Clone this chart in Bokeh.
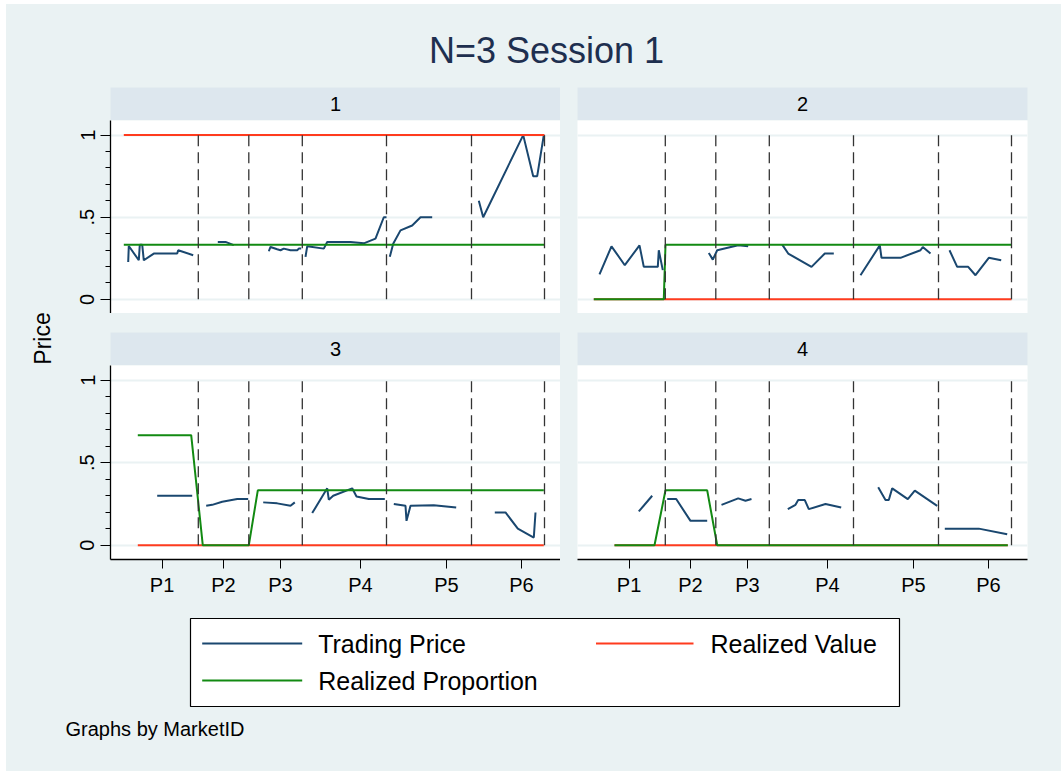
from bokeh.plotting import figure
from bokeh.models import Range1d, FixedTicker, Grid, LinearAxis, Spacer
from bokeh.layouts import column, row
from bokeh.embed import file_html
from bokeh.resources import INLINE
from bokeh.core.properties import value

# ---------------- data (time axis in seconds-like units) ----------------
period_ends = [74.5, 125.0, 178.5, 262.7, 347.7, 420.7]
period_ticks = [38.3, 99.7, 156.7, 236.7, 322.7, 397.7]
period_labels = ["P1", "P2", "P3", "P4", "P5", "P6"]
y_ticks = [0, 0.5, 1]
y_tick_labels = ["0", ".5", "1"]
market_ids = ["1", "2", "3", "4"]

# Market 1
m1_price_t = [[4.4, 5.0, 15.0, 16.0, 18.4, 20.0, 30.0, 53.4, 54.4, 69.4],
              [94.0, 101.7, 110.0],
              [145.0, 146.7, 153.4, 156.7, 160.0, 166.7, 173.4, 175.0, 177.4],
              [181.7, 183.4, 200.0, 203.4, 226.7, 240.0, 251.7, 260.0, 262.7],
              [266.0, 269.4, 276.7, 288.4, 296.7, 308.4],
              [355.0, 359.4, 399.4, 409.4, 413.4, 420.0]]
m1_price = [[0.228, 0.325, 0.238, 0.333, 0.333, 0.238, 0.279, 0.279, 0.299, 0.269],
            [0.35, 0.35, 0.33],
            [0.293, 0.319, 0.305, 0.299, 0.309, 0.299, 0.299, 0.309, 0.309],
            [0.259, 0.323, 0.309, 0.349, 0.349, 0.341, 0.37, 0.5, 0.5],
            [0.259, 0.339, 0.42, 0.45, 0.5, 0.5],
            [0.6, 0.5, 1.0, 0.75, 0.75, 1.0]]
m1_value_t = [0.0, 420.7]
m1_value = [1, 1]
m1_prop_t = [0.0, 420.7]
m1_prop = [0.333, 0.333]

# Market 2
m2_price_t = [[8.7, 20.7, 34.0, 48.7, 53.0, 67.0, 68.0, 72.0],
              [118.0, 122.0, 126.4, 147.4, 157.4],
              [191.4, 197.4, 220.7, 234.0, 243.0],
              [269.7, 289.0, 290.7, 309.7, 329.7, 332.0, 339.7],
              [358.7, 366.4, 377.4, 384.7, 398.0, 410.4]]
m2_price = [[0.152, 0.323, 0.208, 0.329, 0.198, 0.198, 0.299, 0.178],
            [0.283, 0.242, 0.299, 0.329, 0.323],
            [0.333, 0.279, 0.198, 0.279, 0.279],
            [0.147, 0.329, 0.253, 0.253, 0.299, 0.319, 0.279],
            [0.299, 0.198, 0.198, 0.147, 0.253, 0.238]]
m2_value_t = [3.0, 420.7]
m2_value = [0, 0]
m2_prop_t = [3.0, 73.0, 74.7, 420.7]
m2_prop = [0, 0, 0.333, 0.333]

# Market 3
m3_price_t = [[33.4, 68.4],
              [82.4, 88.4, 98.4, 113.4, 124.4],
              [139.4, 153.4, 166.7, 171.0],
              [188.4, 203.4, 205.0, 209.4, 228.4, 232.7, 245.0, 261.0],
              [270.0, 281.7, 282.7, 286.7, 310.0, 332.4],
              [371.0, 381.7, 394.0, 410.0, 411.7]]
m3_price = [[0.3, 0.3],
            [0.239, 0.245, 0.264, 0.28, 0.28],
            [0.26, 0.254, 0.239, 0.26],
            [0.195, 0.345, 0.276, 0.3, 0.345, 0.296, 0.28, 0.28],
            [0.25, 0.239, 0.148, 0.239, 0.243, 0.229],
            [0.199, 0.199, 0.101, 0.047, 0.199]]
m3_value_t = [14.0, 420.0]
m3_value = [0, 0]
m3_prop_t = [14.0, 67.4, 79.0, 125.0, 134.0, 420.0]
m3_prop = [0.667, 0.667, 0, 0, 0.333, 0.333]

# Market 4
m4_price_t = [[48.0, 61.4],
              [76.4, 85.4, 99.7, 116.4],
              [130.7, 147.4, 154.7, 160.7],
              [197.0, 204.7, 207.4, 214.0, 218.0, 234.7, 250.4],
              [287.4, 294.7, 298.0, 301.4, 317.0, 324.0, 346.4],
              [354.0, 388.0, 416.4]]
m4_price = [[0.205, 0.3],
            [0.28, 0.28, 0.148, 0.148],
            [0.245, 0.284, 0.27, 0.28],
            [0.219, 0.245, 0.274, 0.274, 0.219, 0.25, 0.229],
            [0.351, 0.274, 0.274, 0.345, 0.28, 0.331, 0.239],
            [0.101, 0.101, 0.067]]
m4_value_t = [23.7, 417.0]
m4_value = [0, 0]
m4_prop_t = [23.7, 63.7, 74.7, 116.4, 126.4, 417.0]
m4_prop = [0, 0, 0.333, 0.333, 0, 0]

legend_labels = ["Trading Price", "Realized Value", "Realized Proportion"]
title_text = "N=3 Session 1"
note_text = "Graphs by MarketID"
y_title = "Price"

# ---------------- style ----------------
FONT = "Liberation Sans"
BG = "#EAF2F3"
STRIP = "#DDE7EE"
NAVY = "#1A476F"
RED = "#FF3B1E"
GREEN = "#128A12"
TITLE_COLOR = "#1E2F4F"
X_RANGE = (-13.3, 436.7)
Y_RANGE = (-0.086, 1.089)


def base_fig(w, h, xr, yr, **kw):
    return figure(width=w, height=h, x_range=Range1d(*xr), y_range=Range1d(*yr),
                  x_axis_type=None, y_axis_type=None, title=None,
                  toolbar_location=None, output_backend="svg",
                  outline_line_color=None, border_fill_color=BG,
                  min_border_left=kw.get("ml", 0), min_border_right=kw.get("mr", 0),
                  min_border_top=kw.get("mt", 0), min_border_bottom=kw.get("mb", 0),
                  background_fill_color=kw.get("bg", BG))


def strip(label, w, ml, mr):
    s = base_fig(w, 33, (0, 1), (0, 1), ml=ml, mr=mr, bg=STRIP)
    s.text(x=[0.5], y=[0.5], text=[label], text_align="center", text_baseline="middle",
           text_font=value(FONT), text_font_size="20px", text_color="black")
    return s


def style_axis(ax):
    ax.axis_line_color = "black"
    ax.axis_line_width = 1.3
    ax.major_tick_line_color = "black"
    ax.minor_tick_line_color = "black"
    ax.major_tick_in = 0
    ax.minor_tick_in = 0
    ax.major_label_text_font = FONT
    ax.major_label_text_font_size = "20px"
    ax.major_label_text_color = "black"


def panel(pt, pp, vt, vv, qt, qq, w, h, ml, mr, mb, left, bottom):
    p = base_fig(w, h, X_RANGE, Y_RANGE, ml=ml, mr=mr, mb=mb, bg="white")
    p.add_layout(Grid(dimension=1, ticker=FixedTicker(ticks=y_ticks),
                      grid_line_color=BG, grid_line_width=2))
    p.multi_line(xs=pt, ys=pp, line_color=NAVY, line_width=2)
    p.line(vt, vv, line_color=RED, line_width=2)
    p.line(qt, qq, line_color=GREEN, line_width=2)
    p.segment(x0=period_ends, y0=[0] * len(period_ends), x1=period_ends, y1=[1] * len(period_ends),
              line_color="#333333", line_width=1.3, line_dash="11 6")
    if left:
        ax = LinearAxis(ticker=FixedTicker(ticks=y_ticks,
                                           minor_ticks=[i / 10 for i in range(11) if i % 5]),
                        major_label_overrides=dict(zip(y_ticks, y_tick_labels)),
                        major_label_orientation="vertical")
        style_axis(ax)
        ax.major_tick_out = 10
        ax.minor_tick_out = 5
        ax.major_label_standoff = 6
        p.add_layout(ax, "left")
    if bottom:
        ax = LinearAxis(ticker=FixedTicker(ticks=period_ticks),
                        major_label_overrides=dict(zip(period_ticks, period_labels)))
        style_axis(ax)
        ax.major_tick_out = 9
        ax.minor_tick_out = 0
        ax.major_label_standoff = 5
        p.add_layout(ax, "below")
    return p


# canvas starts at page (6, 4); all widths/heights below sum to 1055 x 767
W1, W2, GAPW = 502, 484, 17
ML, MR = 52, 34

s1 = strip(market_ids[0], W1, ML, 0)
s2 = strip(market_ids[1], W2, 0, MR)
s3 = strip(market_ids[2], W1, ML, 0)
s4 = strip(market_ids[3], W2, 0, MR)

p1 = panel(m1_price_t, m1_price, m1_value_t, m1_value, m1_prop_t, m1_prop, W1, 193, ML, 0, 0, True, False)
p2 = panel(m2_price_t, m2_price, m2_value_t, m2_value, m2_prop_t, m2_prop, W2, 193, 0, MR, 0, False, False)
p3 = panel(m3_price_t, m3_price, m3_value_t, m3_value, m3_prop_t, m3_prop, W1, 240, ML, 0, 46, True, True)
p4 = panel(m4_price_t, m4_price, m4_value_t, m4_value, m4_prop_t, m4_prop, W2, 240, 0, MR, 46, False, True)

# header with title
TW = 1055
HH = 83
header = base_fig(TW, HH, (0, TW), (0, HH))
header.text(x=[540], y=[37], text=[title_text], text_align="center", text_baseline="middle",
            text_font=value(FONT), text_font_size="36px", text_color=TITLE_COLOR)

# y title column
ytf = base_fig(52, 518, (0, 52), (0, 518))
ytf.text(x=[36], y=[267], text=[y_title], angle=1.5708, text_align="center", text_baseline="middle",
         text_font=value(FONT), text_font_size="23px", text_color="black")

# legend / note area
LH = 166
leg = base_fig(TW, LH, (0, TW), (0, LH))
leg.quad(left=[184], right=[893], bottom=[65], top=[153], fill_color="white",
         line_color="black", line_width=1.2)
leg.line([195.7, 295.7], [128, 128], line_color=NAVY, line_width=2)
leg.line([589.5, 687], [128, 128], line_color=RED, line_width=2)
leg.line([195.7, 295.7], [91, 91], line_color=GREEN, line_width=2)
leg.text(x=[311.7, 704, 311.7], y=[128, 128, 91], text=legend_labels, text_align="left",
         text_baseline="middle", text_font=value(FONT), text_font_size="25px", text_color="black")
leg.text(x=[59], y=[43], text=[note_text], text_align="left", text_baseline="middle",
         text_font=value(FONT), text_font_size="20px", text_color="black")

grid_col = column(
    row(s1, Spacer(width=GAPW, height=33), s2, spacing=0),
    row(p1, Spacer(width=GAPW, height=193), p2, spacing=0),
    Spacer(width=W1 + GAPW + W2, height=19),
    row(s3, Spacer(width=GAPW, height=33), s4, spacing=0),
    row(p3, Spacer(width=GAPW, height=240), p4, spacing=0),
    spacing=0)

layout = column(header, row(ytf, grid_col, spacing=0), leg, spacing=0,
                margin=(4, 0, 0, 6), styles={"background-color": BG})

open("out.html", "w").write(file_html(layout, INLINE, title=title_text))
